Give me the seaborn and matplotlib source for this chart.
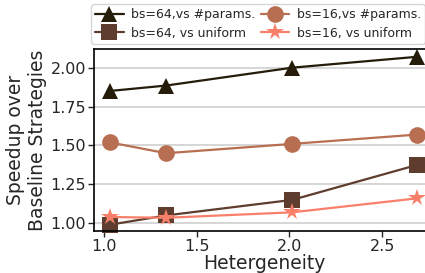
import matplotlib
matplotlib.use('Agg')
import matplotlib.pyplot as plt
import seaborn as sns
import pandas as pd

hetero = [1.03, 1.335, 2.015, 2.69]
bs64_params = [1.85, 1.885, 2.00, 2.07]
bs64_uniform = [0.99, 1.05, 1.15, 1.375]
bs16_params = [1.52, 1.45, 1.51, 1.57]
bs16_uniform = [1.04, 1.035, 1.07, 1.16]

labels = ['bs=64,vs #params.', 'bs=64, vs uniform', 'bs=16,vs #params.', 'bs=16, vs uniform']
series = [bs64_params, bs64_uniform, bs16_params, bs16_uniform]
colors = ['#251d0a', '#5e3c2e', '#b86e50', '#f8806a']
markers = ['^', 's', 'o', '*']
sizes = [11, 11, 12, 13]

rows = []
for lab, vals in zip(labels, series):
    for x, v in zip(hetero, vals):
        rows.append({'Hetergeneity': x, 'speedup': v, 'series': lab})
df = pd.DataFrame(rows)

sns.set_style('white')
plt.rcParams['font.family'] = ['DejaVu Sans']

fig = plt.figure(figsize=(4.25, 2.73), dpi=100)
ax = fig.add_axes([94/425, 1 - 231/273, 340/425, 182/273])

for lab, c, m, s in zip(labels, colors, markers, sizes):
    sub = df[df['series'] == lab]
    sns.lineplot(data=sub, x='Hetergeneity', y='speedup', ax=ax, color=c,
                 marker=m, markersize=s, markeredgewidth=0, linewidth=1.6,
                 label=lab, clip_on=False)

ax.set_xlim(0.946, 2.78)
ax.set_ylim(0.95, 2.12)
ax.set_xticks([1.0, 1.5, 2.0, 2.5])
ax.set_yticks([1.0, 1.25, 1.5, 1.75, 2.0])
ax.yaxis.grid(True, color='#d0d0d0', linewidth=1.2)
ax.tick_params(axis='both', labelsize=11.5, length=4, width=1, direction='out', left=True, bottom=True, pad=1.5)
for sp in ax.spines.values():
    sp.set_color('black')
    sp.set_linewidth(1.2)
ax.set_xlabel('Hetergeneity', fontsize=13.5, labelpad=0)
ax.set_ylabel('Speedup over\nBaseline Strategies', fontsize=13.5, labelpad=3)

ax.legend(ncol=2, loc='lower left', bbox_to_anchor=(-0.008, 1.03), fontsize=9,
          handlelength=2.3, handletextpad=0.6, columnspacing=0.4,
          borderpad=0.3, labelspacing=0.45, frameon=True, borderaxespad=0)

fig.savefig('out.png', dpi=100)
